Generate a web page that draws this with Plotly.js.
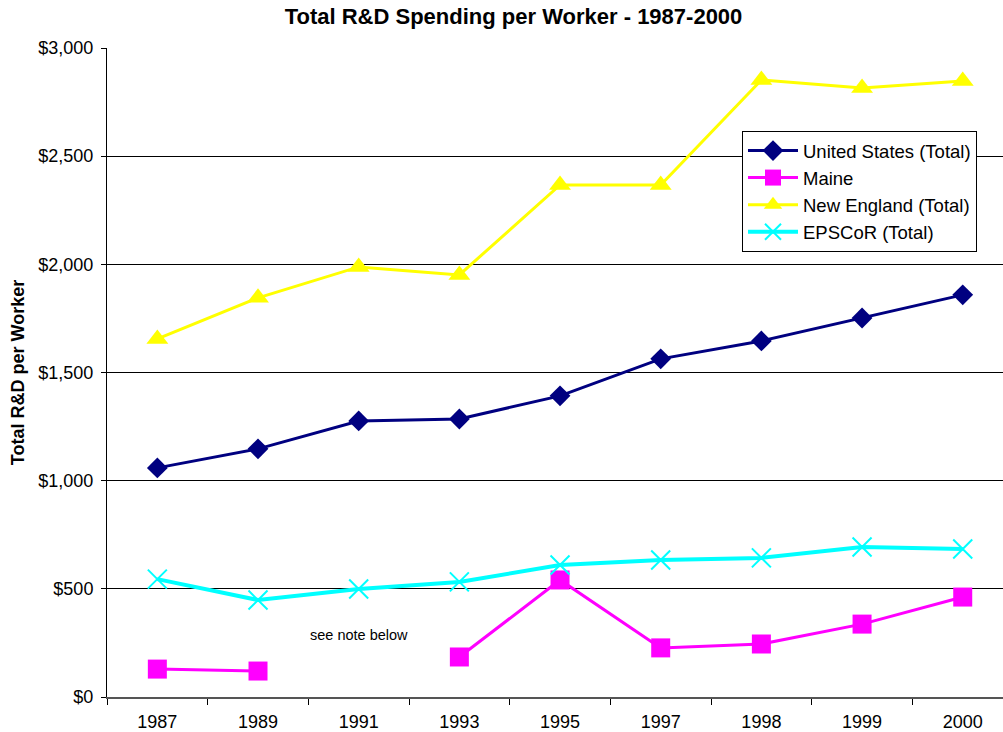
<!DOCTYPE html>
<html><head><meta charset="utf-8">
<script src="https://cdn.plot.ly/plotly-3.0.1.min.js"></script>
<style>body{margin:0;padding:0;background:#fff}</style>
</head><body>
<div id="chart" style="width:1003px;height:732px"></div>
<script>
const years = ["1987","1989","1991","1993","1995","1997","1998","1999","2000"];
const usTotal = [1059, 1147, 1276, 1285, 1392, 1563, 1646, 1752, 1859];
const maine = [129, 120, null, 185, 541, 227, 245, 337, 462];
const newEngland = [1655, 1845, 1988, 1951, 2367, 2367, 2852, 2815, 2848];
const epscor = [545, 448, 499, 532, 610, 633, 643, 693, 684];
const yTicks = [0, 500, 1000, 1500, 2000, 2500, 3000];
const yTickText = ["$0","$500","$1,000","$1,500","$2,000","$2,500","$3,000"];

const traces = [
  {name:"United States (Total)", x:years, y:usTotal, type:"scatter", mode:"lines+markers",
   line:{color:"#000080", width:3}, marker:{symbol:"diamond", size:16, color:"#000080"}},
  {name:"Maine", x:years, y:maine, type:"scatter", mode:"lines+markers", connectgaps:false,
   line:{color:"#FF00FF", width:3}, marker:{symbol:"square", size:19, color:"#FF00FF"}},
  {name:"New England (Total)", x:years, y:newEngland, type:"scatter", mode:"lines+markers",
   line:{color:"#FFFF00", width:3}, marker:{symbol:"triangle-up", size:19, color:"#FFFF00"}},
  {name:"EPSCoR (Total)", x:years, y:epscor, type:"scatter", mode:"lines+markers",
   line:{color:"#00FFFF", width:4}, marker:{symbol:"x-thin-open", size:19, color:"#00FFFF", line:{color:"#00FFFF", width:2}}}
];

const layout = {
  width:1003, height:732,
  margin:{l:107, r:0, t:48, b:35},
  paper_bgcolor:"#fff", plot_bgcolor:"#fff",
  font:{family:"Liberation Sans, Arial, sans-serif", size:18, color:"#000"},
  title:{text:"<b>Total R&D Spending per Worker - 1987-2000</b>", x:0.512, xref:"container", xanchor:"center", y:0.978, yanchor:"middle",
    font:{size:22, family:"Liberation Sans, Arial, sans-serif"}},
  xaxis:{type:"category", range:[-0.5, 8.4], showgrid:false, showline:true, linecolor:"#555", linewidth:2,
    ticks:"outside", tickson:"boundaries", ticklen:6, tickcolor:"#000", tickfont:{size:18}, fixedrange:true,
    ticklabelstandoff:7},
  yaxis:{range:[0,3000], tickvals:yTicks, ticktext:yTickText, showgrid:true, gridcolor:"#000", gridwidth:1,
    showline:true, linecolor:"#000", linewidth:1, ticks:"outside", ticklen:5, tickcolor:"#000",
    tickfont:{size:18}, zeroline:false, ticklabelstandoff:4,
    title:{text:"<b>Total R&D per Worker</b>", font:{size:18}, standoff:9}},
  showlegend:true,
  legend:{x:(742-107)/896, y:1-(131-48)/649, xanchor:"left", yanchor:"top",
    bordercolor:"#000", borderwidth:1, bgcolor:"#fff", font:{size:18.5}, itemwidth:50, tracegroupgap:0},
  annotations:[{text:"see note below", x:2, y:286, xref:"x", yref:"y", showarrow:false, font:{size:14.5}}]
};
Plotly.newPlot("chart", traces, layout, {displayModeBar:false, staticPlot:true});
</script>
</body></html>
